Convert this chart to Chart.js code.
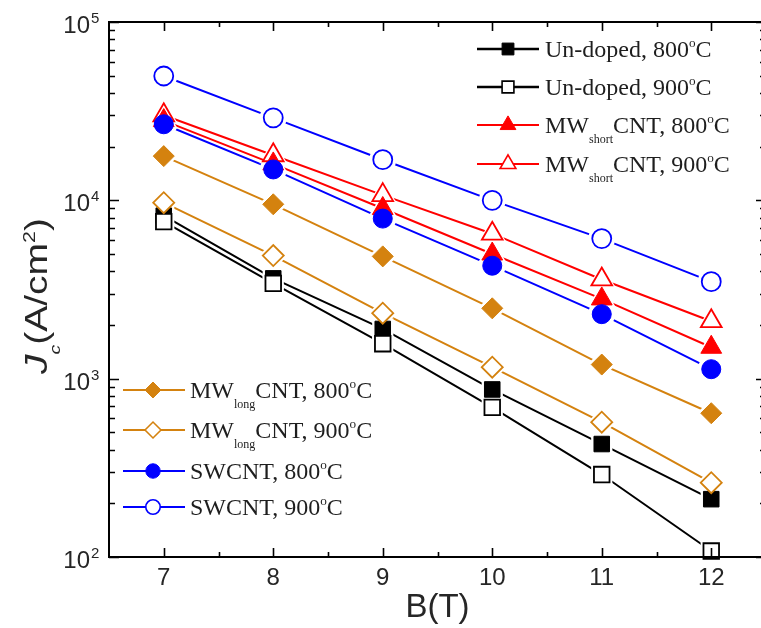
<!DOCTYPE html>
<html>
<head>
<meta charset="utf-8">
<script src="https://cdn.jsdelivr.net/npm/chart.js@4.4.1/dist/chart.umd.min.js"></script>
<style>
  html, body { margin: 0; padding: 0; background: #fff; overflow: hidden; }
  #wrap { width: 761px; height: 628px; overflow: hidden; }
</style>
</head>
<body>
<div id="wrap"><canvas id="jcChart" width="770" height="628"></canvas></div>
<script>
// B field (T) and critical current density Jc (A/cm^2)
const fieldB = [7, 8, 9, 10, 11, 12];
const undoped800 = [8200, 3650, 1900, 870, 430, 211];
const undoped900 = [7600, 3420, 1570, 690, 290, 108];
const mwShort800 = [28000, 16000, 9000, 5000, 2800, 1500];
const mwShort900 = [30000, 17900, 10700, 6500, 3600, 2100];
const mwLong800 = [17700, 9500, 4850, 2480, 1200, 640];
const mwLong900 = [9700, 4900, 2330, 1160, 570, 261];
const sw800 = [26700, 14900, 7900, 4300, 2300, 1130];
const sw900 = [49800, 29000, 16900, 10000, 6100, 3500];

const xTickValues = [7, 8, 9, 10, 11, 12];
const yTickExponents = [2, 3, 4, 5];

const BLACK = "#000000", RED = "#ff0000", ORANGE = "#d4820f", BLUE = "#0000ff";
const SANS = "'Liberation Sans', Arial, sans-serif";
const SERIF = "'Liberation Serif', 'Times New Roman', serif";

// legend text as [text, kind] pieces: kind "" normal, "sub", "sup"
function deg(t) { return [[t, ""], ["o", "sup"], ["C", ""]]; }
const LABELS = [
  [["Un-doped, ", ""]].concat(deg("800")),
  [["Un-doped, ", ""]].concat(deg("900")),
  [["MW", ""], ["short", "sub"], ["CNT, ", ""]].concat(deg("800")),
  [["MW", ""], ["short", "sub"], ["CNT, ", ""]].concat(deg("900")),
  [["MW", ""], ["long", "sub"], ["CNT, ", ""]].concat(deg("800")),
  [["MW", ""], ["long", "sub"], ["CNT, ", ""]].concat(deg("900")),
  [["SWCNT, ", ""]].concat(deg("800")),
  [["SWCNT, ", ""]].concat(deg("900"))
];

const STYLES = [
  { color: BLACK, shape: "rect", r: 11, filled: true, order: 4 },
  { color: BLACK, shape: "rect", r: 11, filled: false, order: 3 },
  { color: RED, shape: "triangle", r: 12, filled: true, order: 2 },
  { color: RED, shape: "triangle", r: 12, filled: false, order: 2 },
  { color: ORANGE, shape: "rectRot", r: 10.5, filled: true, order: 1 },
  { color: ORANGE, shape: "rectRot", r: 10.5, filled: false, order: 1 },
  { color: BLUE, shape: "circle", r: 9.5, filled: true, order: 0 },
  { color: BLUE, shape: "circle", r: 9.5, filled: false, order: 0 }
];
const SERIES = [undoped800, undoped900, mwShort800, mwShort900, mwLong800, mwLong900, sw800, sw900];

function pts(values) {
  return fieldB.map(function(b, i) { return { x: b, y: values[i] }; });
}

// each series = a line with white halos (Origin-style gap at the symbols) + the symbols on top
const datasets = [];
SERIES.forEach(function(values, i) {
  var s = STYLES[i];
  datasets.push({
    data: pts(values),
    borderColor: s.color,
    borderWidth: 2,
    pointStyle: s.shape,
    pointRadius: s.r + 4,
    pointHoverRadius: s.r + 4,
    pointBackgroundColor: "#ffffff",
    pointBorderColor: "#ffffff",
    pointBorderWidth: 0,
    order: 10 + i,
    clip: false
  });
});
SERIES.forEach(function(values, i) {
  var s = STYLES[i];
  datasets.push({
    data: pts(values),
    showLine: false,
    borderColor: s.color,
    pointStyle: s.shape,
    pointRadius: s.r,
    pointHoverRadius: s.r,
    pointBackgroundColor: s.filled ? s.color : "#ffffff",
    pointBorderColor: s.color,
    pointBorderWidth: s.filled ? 1 : 1.8,
    order: s.order,
    clip: false
  });
});

const legendBoxes = [
  { items: [0, 1, 2, 3], x1: 477, x2: 539, mark: 508, text: 545, rows: [49, 87, 125, 164] },
  { items: [4, 5, 6, 7], x1: 123, x2: 185, mark: 153, text: 190, rows: [390, 430, 471, 507] }
];

function fontFor(p, size, family) {
  var s = p[1] === "" ? size : (p[1] === "sub" ? size * 0.5 : size * 0.55);
  var italic = p[2] ? "italic " : "";
  return italic + s + "px " + family;
}

function richWidth(ctx, parts, size, family) {
  var w = 0;
  parts.forEach(function(p) {
    ctx.font = fontFor(p, size, family);
    w += ctx.measureText(p[0]).width;
  });
  return w;
}

function drawRich(ctx, parts, x, y, size, family) {
  parts.forEach(function(p) {
    ctx.font = fontFor(p, size, family);
    var dy = 0;
    if (p[1] === "sub") dy = size * 0.42;
    if (p[1] === "sup") dy = -size * 0.4;
    ctx.fillText(p[0], x, y + dy);
    x += ctx.measureText(p[0]).width;
  });
}

const originFrame = {
  id: "originFrame",
  afterDatasetsDraw(chart) {
    var ctx = chart.ctx, a = chart.chartArea, xs = chart.scales.x, ys = chart.scales.y;
    ctx.save();
    ctx.strokeStyle = "#000";
    ctx.lineWidth = 2;
    ctx.strokeRect(a.left, a.top, a.right - a.left, a.bottom - a.top);

    ctx.lineWidth = 1.6;
    ctx.beginPath();
    for (var v = 7; v <= 12.01; v += 0.5) {
      var px = Math.round(xs.getPixelForValue(v)) + 0.5;
      var len = (v % 1 === 0) ? 9 : 5;
      ctx.moveTo(px, a.bottom); ctx.lineTo(px, a.bottom - len);
      ctx.moveTo(px, a.top); ctx.lineTo(px, a.top + len);
    }
    for (var e = 2; e <= 5; e++) {
      for (var m = 1; m <= 9; m++) {
        if (e === 5 && m > 1) break;
        var py = Math.round(ys.getPixelForValue(m * Math.pow(10, e))) + 0.5;
        var l = m === 1 ? 10 : 6;
        ctx.moveTo(a.left, py); ctx.lineTo(a.left + l, py);
        ctx.moveTo(a.right, py); ctx.lineTo(a.right - l, py);
      }
    }
    ctx.stroke();

    // tick labels
    ctx.fillStyle = "#262626";
    ctx.textBaseline = "alphabetic";
    ctx.textAlign = "center";
    ctx.font = "24px " + SANS;
    xTickValues.forEach(function(t) {
      ctx.fillText(String(t), xs.getPixelForValue(t), a.bottom + 28);
    });
    yTickExponents.forEach(function(ex) {
      var py = ys.getPixelForValue(Math.pow(10, ex));
      ctx.textAlign = "right";
      ctx.font = "24px " + SANS;
      ctx.fillText("10", a.left - 19, py + 11);
      ctx.textAlign = "left";
      ctx.font = "15px " + SANS;
      ctx.fillText(String(ex), a.left - 18, py + 1);
    });

    // axis titles
    ctx.textAlign = "center";
    ctx.font = "33px " + SANS;
    ctx.fillText("B(T)", xs.getPixelForValue(9.5), 617);

    var yTitle = [["J", "", true], ["c", "sub", true], ["(A/cm", ""], ["2", "sup"], [")", ""]];
    ctx.save();
    ctx.translate(47, 296);
    ctx.rotate(-Math.PI / 2);
    ctx.textAlign = "left";
    var tw = richWidth(ctx, yTitle, 31, SANS);
    ctx.scale(156 / tw, 1);
    drawRich(ctx, yTitle, -tw / 2, 0, 31, SANS);
    ctx.restore();

    // two legend blocks
    legendBoxes.forEach(function(box) {
      box.items.forEach(function(idx, r) {
        var s = STYLES[idx];
        var yy = box.rows[r];
        ctx.strokeStyle = s.color;
        ctx.lineWidth = idx < 2 ? 2.6 : 2;
        ctx.beginPath();
        ctx.moveTo(box.x1, yy); ctx.lineTo(box.x2, yy);
        ctx.stroke();
        ctx.fillStyle = s.filled ? s.color : "#ffffff";
        ctx.strokeStyle = s.color;
        var bw = s.filled ? 1 : 1.6;
        ctx.lineWidth = bw;
        Chart.helpers.drawPoint(ctx, { pointStyle: s.shape, radius: s.r * 0.76, borderWidth: bw, rotation: 0 }, box.mark, yy);
        ctx.fillStyle = "#1e1e1e";
        ctx.textAlign = "left";
        drawRich(ctx, LABELS[idx], box.text, yy + 8, 24, SERIF);
      });
    });
    ctx.restore();
  }
};

new Chart(document.getElementById("jcChart"), {
  type: "line",
  data: { datasets: datasets },
  options: {
    responsive: false,
    animation: false,
    layout: { autoPadding: false, padding: { left: 109, top: 22, right: 4, bottom: 71 } },
    scales: {
      x: { type: "linear", min: 6.5, max: 12.5, display: false },
      y: { type: "logarithmic", min: 100, max: 100000, display: false }
    },
    plugins: {
      legend: { display: false },
      tooltip: { enabled: false }
    }
  },
  plugins: [originFrame]
});
</script>
</body>
</html>
